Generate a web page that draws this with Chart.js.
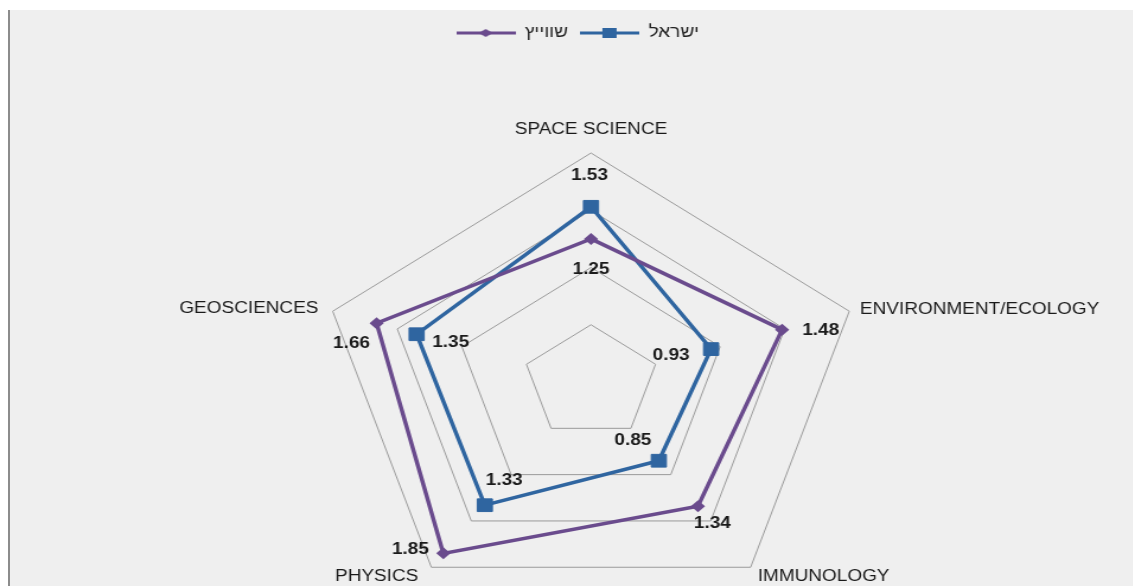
<!DOCTYPE html>
<html lang="he">
<head>
    <meta charset="UTF-8">
    <title>Radar - Israel vs Switzerland</title>
    <script src="https://cdn.jsdelivr.net/npm/chart.js"></script>
    <style>
        body {
            margin: 0;
            background: #ffffff;
            width: 1133px;
            height: 586px;
            overflow: hidden;
            position: relative;
        }
        .panel {
            position: absolute;
            left: 8px;
            top: 10px;
            width: 1125px;
            height: 576px;
            background: #efefef;
            border-left: 2px solid #8c8c8c;
        }
        /* the original picture is stretched sideways, so the chart is too */
        .chart-box {
            position: absolute;
            left: 0;
            top: 10px;
            width: 956px;
            height: 576px;
            transform: scaleX(1.186);
            transform-origin: 0 0;
        }
    </style>
</head>
<body>
    <div class="panel"></div>
    <div class="chart-box">
        <canvas id="radarChart"></canvas>
    </div>

    <script>
        const categories = ['SPACE SCIENCE', 'ENVIRONMENT/ECOLOGY', 'IMMUNOLOGY', 'PHYSICS', 'GEOSCIENCES'];
        const seriesNames = ['שווייץ', 'ישראל'];
        const swissValues = [1.25, 1.48, 1.34, 1.85, 1.66];
        const israelValues = [1.53, 0.93, 0.85, 1.33, 1.35];
        const scaleTicks = [0, 0.5, 1, 1.5, 2];

        const purple = '#6a4b8d';
        const blue = '#2f65a0';
        const FONT = '"Liberation Sans", Arial, sans-serif';

        // radar geometry (canvas units, before the sideways stretch)
        const CX = 498.3, CY = 372, RADIUS = 229;

        // where each category name sits relative to the outer ring vertex
        const catPlace = [
            { dx: 0, dy: -23, align: 'center' },
            { dx: 9, dy: -2, align: 'left' },
            { dx: 6, dy: 9, align: 'left' },
            { dx: -11, dy: 9, align: 'right' },
            { dx: -12, dy: -3, align: 'right' }
        ];
        // value label offsets from the point, per dataset
        const valuePlace = [
            [[0, 31], [32.5, 0.5], [12.2, 17.5], [-27.8, -3.5], [-21.1, 20]],
            [[-1.3, -31.5], [-33.7, 6], [-21.9, -20], [16.4, -25], [28.7, 8.5]]
        ];

        function legendIcon(color, shape) {
            const c = document.createElement('canvas');
            c.width = 50;
            c.height = 16;
            const g = c.getContext('2d');
            g.strokeStyle = color;
            g.lineWidth = 3;
            g.beginPath();
            g.moveTo(0, 8);
            g.lineTo(50, 8);
            g.stroke();
            g.fillStyle = color;
            if (shape === 'rect') {
                g.fillRect(19, 3, 12, 10);
            } else {
                g.beginPath();
                g.moveTo(19, 8);
                g.lineTo(25, 4);
                g.lineTo(31, 8);
                g.lineTo(25, 12);
                g.closePath();
                g.fill();
            }
            return c;
        }
        const icons = [legendIcon(purple, 'rectRot'), legendIcon(blue, 'rect')];

        const labelPlugin = {
            id: 'labelPlugin',
            afterDraw(chart) {
                const ctx = chart.ctx;
                const scale = chart.scales.r;
                ctx.save();
                ctx.textBaseline = 'middle';

                ctx.fillStyle = '#1a1a1a';
                ctx.font = '16px ' + FONT;
                categories.forEach((name, i) => {
                    const p = scale.getPointPosition(i, scale.getDistanceFromCenterForValue(scale.max));
                    ctx.textAlign = catPlace[i].align;
                    ctx.fillText(name, p.x + catPlace[i].dx, p.y + catPlace[i].dy);
                });

                ctx.font = 'bold 16px ' + FONT;
                ctx.textAlign = 'center';
                chart.data.datasets.forEach((ds, d) => {
                    const meta = chart.getDatasetMeta(d);
                    meta.data.forEach((pt, i) => {
                        const off = valuePlace[d][i];
                        ctx.fillText(ds.data[i].toFixed(2), pt.x + off[0], pt.y + off[1]);
                    });
                });
                ctx.restore();
            }
        };

        new Chart(document.getElementById('radarChart'), {
            type: 'radar',
            data: {
                labels: categories,
                datasets: [{
                    label: seriesNames[0],
                    data: swissValues,
                    borderColor: purple,
                    backgroundColor: purple,
                    borderWidth: 3.5,
                    fill: false,
                    pointStyle: 'rectRot',
                    pointRadius: 6,
                    pointBorderWidth: 0,
                    pointBackgroundColor: purple
                }, {
                    label: seriesNames[1],
                    data: israelValues,
                    borderColor: blue,
                    backgroundColor: blue,
                    borderWidth: 3.5,
                    fill: false,
                    pointStyle: 'rect',
                    pointRadius: 9,
                    pointBorderWidth: 1,
                    pointBorderColor: blue,
                    pointBackgroundColor: blue
                }]
            },
            options: {
                responsive: true,
                maintainAspectRatio: false,
                animation: false,
                layout: { padding: { left: 18, top: 5 } },
                elements: { line: { tension: 0 } },
                plugins: {
                    tooltip: { enabled: false },
                    legend: {
                        position: 'top',
                        labels: {
                            usePointStyle: true,
                            pointStyleWidth: 50,
                            padding: 10,
                            color: '#222',
                            font: { size: 16, family: FONT },
                            generateLabels(chart) {
                                return chart.data.datasets.map((ds, i) => ({
                                    text: ds.label,
                                    pointStyle: icons[i],
                                    fillStyle: ds.borderColor,
                                    strokeStyle: ds.borderColor,
                                    lineWidth: 0,
                                    hidden: false,
                                    datasetIndex: i,
                                    fontColor: '#222'
                                }));
                            }
                        }
                    }
                },
                scales: {
                    r: {
                        min: scaleTicks[0],
                        max: scaleTicks[scaleTicks.length - 1],
                        ticks: { stepSize: scaleTicks[1] - scaleTicks[0], display: false },
                        grid: { color: '#9a9a9a', lineWidth: 1 },
                        angleLines: { display: false },
                        pointLabels: { display: false },
                        afterFit(scale) {
                            scale.xCenter = CX;
                            scale.yCenter = CY;
                            scale.drawingArea = RADIUS;
                        }
                    }
                }
            },
            plugins: [labelPlugin]
        });
    </script>
</body>
</html>
